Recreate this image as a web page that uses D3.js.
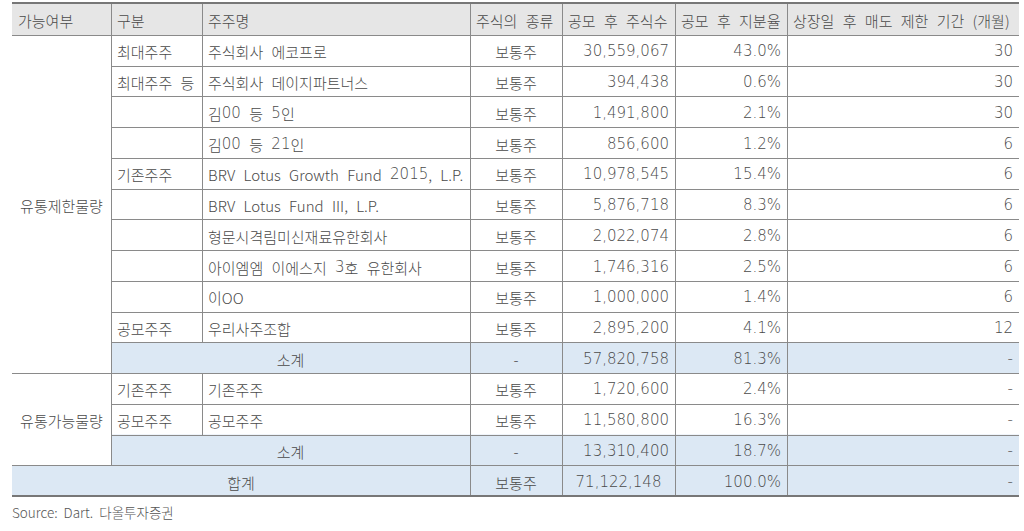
<!DOCTYPE html>
<html>
<head>
<meta charset="utf-8">
<script src="https://cdn.jsdelivr.net/npm/d3@7"></script>
<style>
  body { margin: 0; background: #fff; }
  svg text { font-family: "Noto Sans CJK KR", "Noto Sans", sans-serif; font-weight: 300; word-spacing: 5px; }
  svg .num { font-family: "DejaVu Sans", sans-serif; font-weight: 200; word-spacing: 0; }
</style>
</head>
<body>
<div id="table"></div>
<script>
// table data
const headers = ["가능여부", "구분", "주주명", "주식의 종류", "공모 후 주식수", "공모 후 지분율", "상장일 후 매도 제한 기간 (개월)"];
const groups = ["유통제한물량", "유통가능물량"];
const categories = ["최대주주", "최대주주 등", "", "", "기존주주", "", "", "", "", "공모주주", "소계", "기존주주", "공모주주", "소계", "합계"];
const holders = ["주식회사 에코프로", "주식회사 데이지파트너스", "김00 등 5인", "김00 등 21인",
  "BRV Lotus Growth Fund 2015, L.P.", "BRV Lotus Fund III, L.P.", "형문시격림미신재료유한회사",
  "아이엠엠 이에스지 3호 유한회사", "이OO", "우리사주조합", "", "기존주주", "공모주주", "", ""];
const stockType = ["보통주", "보통주", "보통주", "보통주", "보통주", "보통주", "보통주", "보통주", "보통주", "보통주", "-", "보통주", "보통주", "-", "보통주"];
const shares = [30559067, 394438, 1491800, 856600, 10978545, 5876718, 2022074, 1746316, 1000000, 2895200, 57820758, 1720600, 11580800, 13310400, 71122148];
const stake = [43.0, 0.6, 2.1, 1.2, 15.4, 8.3, 2.8, 2.5, 1.4, 4.1, 81.3, 2.4, 16.3, 18.7, 100.0];
const lockup = ["30", "30", "30", "6", "6", "6", "6", "6", "6", "12", "-", "-", "-", "-", "-"];
const groupRows = [[0, 10], [11, 13]];   // row ranges for 가능여부
const sourceNote = "Source: Dart. 다올투자증권";

const width = 1024, height = 531;
const colEdges = [12, 111, 202, 470, 562, 675, 787, 1019];
const tableTop = 3, headerBottom = 35, tableBottom = 496;
const nRows = shares.length;

const y = d3.scaleLinear().domain([0, nRows]).range([headerBottom, tableBottom]);
const fmt = d3.format(",");
const pct = d3.format(".1f");

const svg = d3.select("#table").append("svg")
  .attr("width", width).attr("height", height);

const lineColor = "#8a8a8a";
const textColor = "#4a4a4a";
const blue = "#dce8f4";
const pad = 6;

// build cells: {r0, r1, c0, c1, text, align, fill}
let cells = [];
headers.forEach((h, i) => cells.push({ header: true, c0: i, c1: i + 1, text: h, align: "start", fill: "#e6e6e6" }));

groupRows.forEach((g, i) => cells.push({ r0: g[0], r1: g[1] + 1, c0: 0, c1: 1, text: groups[i], align: "middle", fill: "#fff" }));

for (let r = 0; r < nRows; r++) {
  const cat = categories[r];
  const isSub = cat === "소계", isTotal = cat === "합계";
  const fill = (isSub || isTotal) ? blue : "#fff";
  if (isTotal) {
    cells.push({ r0: r, r1: r + 1, c0: 0, c1: 3, text: cat, align: "middle", fill });
  } else if (isSub) {
    cells.push({ r0: r, r1: r + 1, c0: 1, c1: 3, text: cat, align: "middle", fill });
  } else {
    cells.push({ r0: r, r1: r + 1, c0: 1, c1: 2, text: cat, align: "start", fill });
    cells.push({ r0: r, r1: r + 1, c0: 2, c1: 3, text: holders[r], align: "start", fill });
  }
  cells.push({ r0: r, r1: r + 1, c0: 3, c1: 4, text: stockType[r], align: "middle", fill });
  cells.push({ r0: r, r1: r + 1, c0: 4, c1: 5, text: fmt(shares[r]), align: isTotal ? "middle" : "end", fill, num: true });
  cells.push({ r0: r, r1: r + 1, c0: 5, c1: 6, text: pct(stake[r]) + "%", align: "end", fill, num: true });
  cells.push({ r0: r, r1: r + 1, c0: 6, c1: 7, text: lockup[r], align: "end", fill, num: true });
}

cells.forEach(d => {
  d.x0 = colEdges[d.c0]; d.x1 = colEdges[d.c1];
  d.y0 = d.header ? tableTop : y(d.r0);
  d.y1 = d.header ? headerBottom : y(d.r1);
});

// backgrounds
svg.append("g").selectAll("rect").data(cells).join("rect")
  .attr("x", d => d.x0).attr("y", d => d.y0)
  .attr("width", d => d.x1 - d.x0).attr("height", d => d.y1 - d.y0)
  .attr("fill", d => d.fill);

// inner borders: right and bottom edges of each cell
const borders = svg.append("g").attr("stroke", lineColor).attr("stroke-width", 1).attr("shape-rendering", "crispEdges");
cells.filter(d => d.c1 < headers.length).forEach(d => {
  borders.append("line").attr("x1", d.x1 + 0.5).attr("x2", d.x1 + 0.5).attr("y1", d.y0).attr("y2", d.y1);
});
cells.filter(d => d.header || d.r1 < nRows).forEach(d => {
  borders.append("line").attr("x1", d.x0).attr("x2", d.x1).attr("y1", d.y1 + 0.5).attr("y2", d.y1 + 0.5);
});

// outer top / bottom rules
svg.append("line").attr("x1", colEdges[0]).attr("x2", colEdges[7]).attr("y1", tableTop).attr("y2", tableTop)
  .attr("stroke", "#777").attr("stroke-width", 2);
svg.append("line").attr("x1", colEdges[0]).attr("x2", colEdges[7]).attr("y1", tableBottom).attr("y2", tableBottom)
  .attr("stroke", "#777").attr("stroke-width", 2);

// text
svg.append("g").selectAll("text").data(cells.filter(d => d.text)).join("text")
  .attr("class", d => d.num ? "num" : null)
  .attr("x", d => d.align === "start" ? d.x0 + pad : d.align === "end" ? d.x1 - pad : (d.x0 + d.x1) / 2)
  .attr("y", d => (d.y0 + d.y1) / 2 + 1)
  .attr("text-anchor", d => d.align)
  .attr("dominant-baseline", "central")
  .attr("font-size", 15)
  .attr("fill", textColor)
  .each(function (d) {
    const t = d3.select(this);
    if (d.num) { t.text(d.text); return; }
    // digits inside labels use the wider numeric face
    d.text.split(/(\d+)/).filter(s => s).forEach(s => {
      t.append("tspan").attr("class", /^\d+$/.test(s) ? "num" : null).text(s);
    });
  });

svg.append("text")
  .attr("x", 12).attr("y", 512)
  .attr("dominant-baseline", "central")
  .attr("font-size", 13.5)
  .attr("fill", "#555")
  .style("word-spacing", "3px")
  .text(sourceNote);
</script>
</body>
</html>
